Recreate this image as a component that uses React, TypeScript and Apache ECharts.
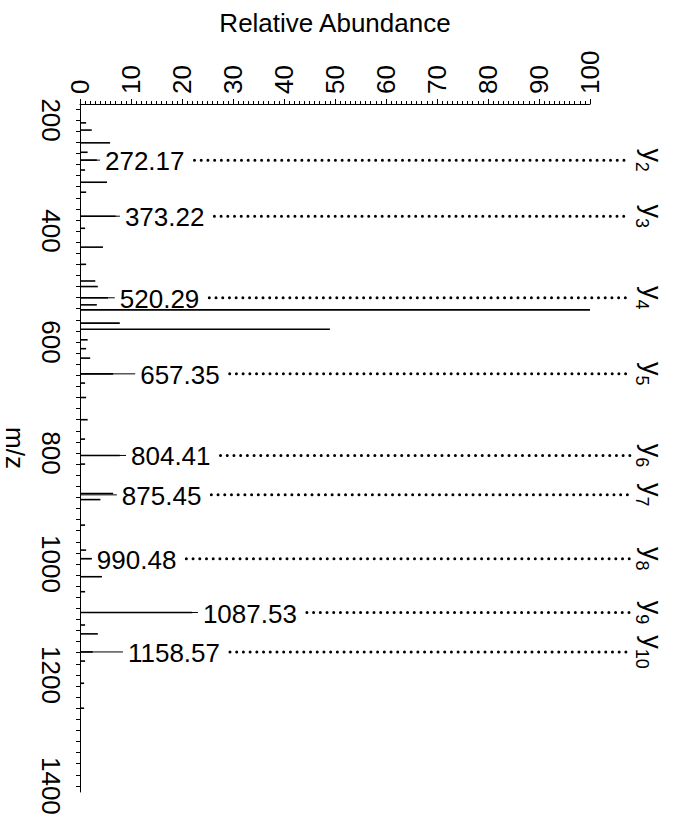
import React, { useEffect, useRef } from "react";
import * as echarts from "echarts";

// ---- data ----
const peakMz = [
  205, 218, 241, 258, 272.17, 290, 312, 330, 373.22, 395, 429, 460, 490, 500,
  520.29, 533, 542, 566, 577, 596, 612, 629, 657.35, 674, 700, 740, 775,
  804.41, 820, 873, 884, 930, 975, 990.48, 1023, 1050, 1087.53, 1110, 1126,
  1158.57, 1175, 1215, 1260,
];
const peakAbundance = [
  1.2, 2.3, 5.9, 1.5, 3.3, 1.0, 5.3, 1.2, 7.0, 1.0, 4.5, 1.2, 3.0, 3.5,
  5.5, 3.3, 100, 7.8, 49, 1.5, 1.2, 2.0, 6.5, 1.0, 1.2, 1.5, 1.0,
  7.8, 1.0, 6.5, 4.0, 1.0, 1.2, 2.3, 4.3, 1.0, 22, 1.0, 3.5,
  2.5, 1.0, 0.8, 0.8,
];
const ionMz = [272.17, 373.22, 520.29, 657.35, 804.41, 875.45, 990.48, 1087.53, 1158.57];
const ionNumber = ["2", "3", "4", "5", "6", "7", "8", "9", "10"];
const abundanceTicks = [0, 10, 20, 30, 40, 50, 60, 70, 80, 90, 100];
const mzTickLabels = [200, 400, 600, 800, 1000, 1200, 1400];

// ---- layout (label anchor along the abundance axis, in %) ----
const ionLabelAt = [4.9, 8.8, 7.8, 11.8, 10.0, 8.2, 3.3, 24.1, 9.4];

const FONT = '"Liberation Sans", Arial, Helvetica, sans-serif';
const FS = 26;

let measureCtx: CanvasRenderingContext2D | null = null;
function textWidth(s: string, size: number) {
  if (!measureCtx) measureCtx = document.createElement("canvas").getContext("2d");
  if (!measureCtx) return s.length * size * 0.55;
  measureCtx.font = `${size}px ${FONT}`;
  return measureCtx.measureText(s).width;
}

const mzMinorTicks: number[] = [];
for (let v = 180; v <= 1400; v += 20) mzMinorTicks.push(v);

export default function App() {
  const ref = useRef<HTMLDivElement>(null);
  useEffect(() => {
    if (!ref.current) return;
    const chart = echarts.init(ref.current, null, { renderer: "svg" });
    const option: any = {
      animation: false,
      backgroundColor: "#fff",
      textStyle: { fontFamily: FONT, color: "#000" },
      grid: {
        left: 80,
        right: 86,
        top: 104,
        bottom: 32,
        containLabel: false,
        outerBoundsMode: "none",
      },
      xAxis: {
        type: "value",
        position: "top",
        min: 0,
        max: 100,
        interval: 10,
        name: "Relative Abundance",
        nameLocation: "middle",
        nameGap: 68,
        nameTextStyle: { fontSize: 26, color: "#000", fontFamily: FONT },
        axisLine: { show: true, lineStyle: { color: "#000", width: 1 } },
        axisTick: { show: true, length: 5, lineStyle: { color: "#000" } },
        minorTick: { show: true, splitNumber: 10, length: 3, lineStyle: { color: "#000" } },
        splitLine: { show: false },
        axisLabel: {
          rotate: -90,
          margin: 10,
          fontSize: FS,
          color: "#000",
          fontFamily: FONT,
          customValues: abundanceTicks,
          formatter: (v: number) => String(v),
        },
      },
      yAxis: {
        type: "value",
        inverse: true,
        min: 171,
        max: 1411,
        name: "m/z",
        nameLocation: "middle",
        nameRotate: -90,
        nameGap: 52,
        nameTextStyle: { fontSize: 26, color: "#000", fontFamily: FONT },
        axisLine: { show: true, lineStyle: { color: "#000", width: 1 } },
        axisTick: { show: true, length: 4, lineStyle: { color: "#000" }, customValues: mzMinorTicks },
        splitLine: { show: false },
        axisLabel: {
          rotate: -90,
          margin: 16,
          fontSize: FS,
          color: "#000",
          fontFamily: FONT,
          customValues: mzTickLabels,
          formatter: (v: number) => String(v),
        },
      },
      series: [
        {
          type: "custom",
          clip: false,
          data: peakMz.map((m, i) => [peakAbundance[i], m]),
          renderItem: (_p: any, api: any) => {
            const m = api.value(1);
            const a = api.value(0);
            const p0 = api.coord([0, m]);
            const p1 = api.coord([a, m]);
            return {
              type: "line",
              shape: { x1: p0[0], y1: p0[1], x2: p1[0], y2: p1[1] },
              style: { stroke: "#000", lineWidth: 1.6 },
            };
          },
        },
        {
          type: "custom",
          clip: false,
          data: ionMz.map((m, i) => [ionLabelAt[i], m, i]),
          renderItem: (_p: any, api: any) => {
            const at = api.value(0);
            const m = api.value(1);
            const i = api.value(2);
            const label = ionMz[i].toFixed(2);
            const p0 = api.coord([0, m]);
            const pl = api.coord([at, m]);
            const pe = api.coord([100, m]);
            const w = textWidth(label, FS);
            const dotStart = pl[0] + w + 10;
            const dotEnd = pe[0] + 40;
            return {
              type: "group",
              children: [
                {
                  type: "line",
                  shape: { x1: p0[0], y1: p0[1], x2: pl[0] - 5, y2: p0[1] },
                  style: { stroke: "#000", lineWidth: 1 },
                },
                {
                  type: "text",
                  x: pl[0],
                  y: p0[1] + 1,
                  style: {
                    text: label,
                    fontSize: FS,
                    fontFamily: FONT,
                    fill: "#000",
                    align: "left",
                    verticalAlign: "middle",
                  },
                },
                {
                  type: "line",
                  shape: { x1: dotStart, y1: p0[1], x2: dotEnd, y2: p0[1] },
                  style: { stroke: "#000", lineWidth: 3, lineDash: [0.01, 6.7], lineCap: "round" },
                },
                {
                  type: "text",
                  x: pe[0] + 59,
                  y: p0[1],
                  rotation: -Math.PI / 2,
                  style: {
                    text: `{b|y}{s|${ionNumber[i]}}`,
                    fontFamily: FONT,
                    fill: "#000",
                    align: "center",
                    verticalAlign: "middle",
                    rich: {
                      b: { fontSize: 27, fontFamily: FONT, lineHeight: 32, verticalAlign: "top", fill: "#000" },
                      s: { fontSize: 18, fontFamily: FONT, lineHeight: 32, verticalAlign: "bottom", fill: "#000" },
                    },
                  },
                },
              ],
            };
          },
        },
      ],
    };
    chart.setOption(option);
    return () => chart.dispose();
  }, []);
  return (
    <div
      ref={ref}
      style={{ position: "fixed", left: 0, top: 0, width: 676, height: 824, background: "#fff" }}
    />
  );
}
